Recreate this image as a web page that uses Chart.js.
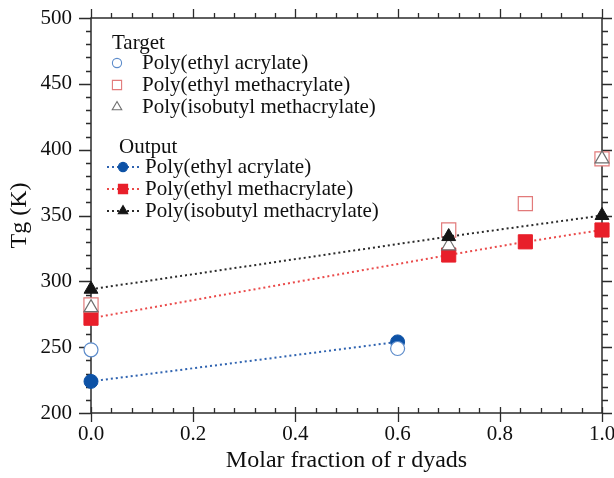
<!DOCTYPE html>
<html>
<head>
<meta charset="utf-8">
<script src="https://cdn.jsdelivr.net/npm/chart.js@4/dist/chart.umd.min.js"></script>
<style>
  html, body { margin: 0; padding: 0; background: #fff; }
  #wrap { width: 614px; height: 478px; }
</style>
</head>
<body>
<div id="wrap"><canvas id="tgChart"></canvas></div>
<script>
// series names
const seriesNames = ['Poly(ethyl acrylate)', 'Poly(ethyl methacrylate)', 'Poly(isobutyl methacrylate)'];

// target (open markers)
const targetPEA_x = [0, 0.6];
const targetPEA_y = [248, 249];
const targetPEMA_x = [0, 0.7, 0.85, 1.0];
const targetPEMA_y = [282, 339, 359, 393];
const targetPiBMA_x = [0, 0.7, 1.0];
const targetPiBMA_y = [280, 327, 393];

// output (filled markers, dotted lines)
const outputPEA_x = [0, 0.6];
const outputPEA_y = [224, 254];
const outputPEMA_x = [0, 0.7, 0.85, 1.0];
const outputPEMA_y = [272, 320, 330, 339];
const outputPiBMA_x = [0, 0.7, 1.0];
const outputPiBMA_y = [294, 334, 350];

// axes
const xTickValues = [0, 0.2, 0.4, 0.6, 0.8, 1.0];
const yTickValues = [200, 250, 300, 350, 400, 450, 500];

const FONT = "'Liberation Serif', 'Times New Roman', serif";
const TEXT = '#0f0f0f';
const BLUE = '#0d52a6', RED = '#e81f2a', BLACK = '#151515';
const BLUE_L = '#5d8ccb', RED_L = '#e27a7a', GRAY_L = '#6f6f6f';

const pts = (xs, ys) => xs.map((x, i) => ({ x: x, y: ys[i] }));

const targetSet = (label, xs, ys, style, color, r) => ({
  label: label, group: 'Target', data: pts(xs, ys), showLine: false,
  pointStyle: style, pointRadius: r, pointHoverRadius: r,
  pointBackgroundColor: '#fff', pointBorderColor: color, pointBorderWidth: 1.2,
  clip: false
});
const outputSet = (label, xs, ys, style, color, lineColor, r) => ({
  label: label, group: 'Output', data: pts(xs, ys), showLine: true,
  borderColor: lineColor, borderWidth: 2, borderDash: [2, 3],
  pointStyle: style, pointRadius: r, pointHoverRadius: r,
  pointBackgroundColor: color, pointBorderColor: color, pointBorderWidth: 1,
  clip: false
});

const datasets = [
  Object.assign(outputSet(seriesNames[2], outputPiBMA_x, outputPiBMA_y, 'triangle', BLACK, '#2a2a2a', 8), { order: 0 }),
  Object.assign(targetSet(seriesNames[0], targetPEA_x, targetPEA_y, 'circle', BLUE_L, 7), { order: 1 }),
  Object.assign(targetSet(seriesNames[1], targetPEMA_x, targetPEMA_y, 'rect', RED_L, 10), { order: 2 }),
  Object.assign(targetSet(seriesNames[2], targetPiBMA_x, targetPiBMA_y, 'triangle', GRAY_L, 8), { order: 1 }),
  Object.assign(outputSet(seriesNames[0], outputPEA_x, outputPEA_y, 'circle', BLUE, '#2f63b0', 7), { order: 3 }),
  Object.assign(outputSet(seriesNames[1], outputPEMA_x, outputPEMA_y, 'rect', RED, '#ea4a4a', 10), { order: 3 })
];

// frame + ticks like the original plot (all in data units via the scales)
const framePlugin = {
  id: 'frame',
  beforeDatasetsDraw(chart) {
    const { ctx, chartArea: a, scales: { x, y } } = chart;
    ctx.save();
    ctx.strokeStyle = '#2b2b2b';
    ctx.lineWidth = 1.5;
    ctx.strokeRect(a.left, a.top, a.right - a.left, a.bottom - a.top);
    ctx.lineWidth = 1.3;
    ctx.beginPath();
    for (let i = 0; i <= 25; i++) {
      const v = i * 0.04;
      const px = Math.round(x.getPixelForValue(v)) + 0.5;
      const major = i % 5 === 0;
      ctx.moveTo(px, a.bottom + (major ? 9 : 0)); ctx.lineTo(px, a.bottom - (major ? 6 : 5));
      ctx.moveTo(px, a.top); ctx.lineTo(px, a.top - (major ? 9 : 5));
    }
    for (let i = 0; i <= 30; i++) {
      const v = 200 + i * 10;
      const py = Math.round(y.getPixelForValue(v)) + 0.5;
      const major = i % 5 === 0;
      ctx.moveTo(a.left, py); ctx.lineTo(a.left - (major ? 12 : 5), py);
      ctx.moveTo(a.right, py); ctx.lineTo(a.right + (major ? 10 : 6), py);
    }
    ctx.stroke();
    ctx.restore();
  }
};

// two-group legend (Target / Output) drawn from the datasets
const legendPlugin = {
  id: 'groupLegend',
  afterDraw(chart) {
    const { ctx } = chart;
    const sets = chart.data.datasets;
    const draw = Chart.helpers.drawPoint;
    ctx.save();
    ctx.font = '21px ' + FONT;
    ctx.textBaseline = 'middle';
    ctx.textAlign = 'left';
    const groups = [
      { name: 'Target', tx: 112, ty: 43, mx: 117, rows: [63, 85, 107], textX: 142 },
      { name: 'Output', tx: 119, ty: 147, mx: 123, rows: [167, 189, 211], textX: 145 }
    ];
    groups.forEach(g => {
      ctx.fillStyle = TEXT;
      ctx.fillText(g.name, g.tx, g.ty);
      seriesNames.forEach((name, i) => {
        const ds = sets.find(d => d.group === g.name && d.label === name);
        const yy = g.rows[i];
        if (ds.showLine) {
          ctx.save();
          ctx.strokeStyle = ds.borderColor;
          ctx.lineWidth = 2;
          ctx.setLineDash([2, 3]);
          ctx.beginPath(); ctx.moveTo(107, yy); ctx.lineTo(141, yy); ctx.stroke();
          ctx.restore();
        }
        ctx.save();
        ctx.fillStyle = ds.pointBackgroundColor;
        ctx.strokeStyle = ds.pointBorderColor;
        ctx.lineWidth = 1.1;
        const r = ds.pointStyle === 'rect' ? 6.5 : (ds.pointStyle === 'triangle' ? 5.5 : 4.6);
        draw(ctx, { pointStyle: ds.pointStyle, radius: r, borderWidth: 1.1, rotation: 0 }, g.mx, yy);
        ctx.restore();
        ctx.fillStyle = TEXT;
        ctx.fillText(name, g.textX, yy);
      });
    });
    ctx.restore();
  }
};

new Chart(document.getElementById('tgChart'), {
  type: 'scatter',
  data: { datasets: datasets },
  options: {
    responsive: true,
    maintainAspectRatio: false,
    animation: false,
    layout: { padding: { left: 0, right: 12, top: 18, bottom: 0 } },
    plugins: { legend: { display: false }, tooltip: { enabled: false } },
    scales: {
      x: {
        type: 'linear', min: 0, max: 1,
        grid: { display: false }, border: { display: false },
        afterBuildTicks: s => { s.ticks = xTickValues.map(v => ({ value: v })); },
        ticks: { color: TEXT, padding: 1, font: { family: FONT, size: 21 },
          callback: v => Number(v).toFixed(1), maxRotation: 0, autoSkip: false },
        title: { display: true, text: 'Molar fraction of r dyads', color: TEXT,
          font: { family: FONT, size: 24 }, padding: { top: 0, bottom: 3 } },
        afterFit: s => { s.height = 65; s.paddingLeft = 0; s.paddingRight = 0; }
      },
      y: {
        type: 'linear', min: 200, max: 500,
        grid: { display: false }, border: { display: false },
        afterBuildTicks: s => { s.ticks = yTickValues.map(v => ({ value: v })); },
        ticks: { color: TEXT, padding: 11, font: { family: FONT, size: 21 }, autoSkip: false },
        title: { display: true, text: 'Tg (K)', color: TEXT,
          font: { family: FONT, size: 24 }, padding: { top: 5, bottom: 0 } },
        afterFit: s => { s.width = 91; s.paddingTop = 0; s.paddingBottom = 0; }
      }
    }
  },
  plugins: [framePlugin, legendPlugin]
});
</script>
</body>
</html>
